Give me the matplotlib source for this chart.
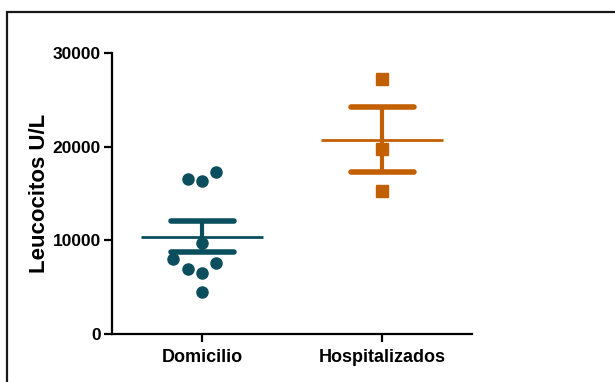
import numpy as np
import matplotlib.pyplot as plt
from matplotlib.patches import Rectangle

plt.rcParams['font.family'] = ['Liberation Sans', 'DejaVu Sans']
plt.rcParams['font.weight'] = 'bold'

groups = ['Domicilio', 'Hospitalizados']
domicilio = [16600, 16300, 17300, 9700, 8050, 6900, 6500, 7550, 4450]
hospitalizados = [27200, 19750, 15300]
dom_offsets = [-0.08, 0.0, 0.08, 0.0, -0.16, -0.08, 0.0, 0.08, 0.0]
hosp_offsets = [0.0, 0.0, 0.0]
yticks = [0, 10000, 20000, 30000]

teal = '#0b4f5e'
orange = '#c25f00'

fig = plt.figure(figsize=(6.15, 3.82), dpi=100)
# outer frame
fig.patches.append(Rectangle((7 / 615, -0.1), 1.2, 1 - 12 / 382 + 0.1,
                             transform=fig.transFigure, fill=False,
                             edgecolor='#1a1a1a', linewidth=1.6))

ax = fig.add_axes([112 / 615, 1 - 334 / 382, 360 / 615, 281 / 382])

series = [(domicilio, dom_offsets, teal, 'o', 8),
          (hospitalizados, hosp_offsets, orange, 's', 8.5)]
for i, (vals, offs, col, mk, ms) in enumerate(series):
    v = np.array(vals, dtype=float)
    mean = v.mean()
    sem = v.std(ddof=1) / np.sqrt(len(v))
    xs = i + np.array(offs)
    ax.plot(xs, v, linestyle='none', marker=mk, markersize=ms,
            color=col, zorder=3)
    ax.hlines(mean, i - 0.34, i + 0.34, color=col, linewidth=2, zorder=2)
    ax.vlines(i, mean - sem, mean + sem, color=col, linewidth=3, zorder=2)
    ax.hlines([mean - sem, mean + sem], i - 0.175, i + 0.175, color=col,
              linewidth=4, capstyle='round', zorder=2)

ax.set_xlim(-0.5, 1.5)
ax.set_ylim(0, 30000)
ax.set_xticks([0, 1])
ax.set_xticklabels(groups, fontsize=13, fontweight='bold')
ax.set_yticks(yticks)
ax.set_yticklabels([str(t) for t in yticks], fontsize=12.5, fontweight='bold')
ax.set_ylabel('Leucocitos U/L', fontsize=16, fontweight='bold', labelpad=2)

for s in ['top', 'right']:
    ax.spines[s].set_visible(False)
for s in ['left', 'bottom']:
    ax.spines[s].set_linewidth(1.6)
ax.tick_params(width=1.6, length=6, pad=2)
ax.tick_params(axis='x', pad=5)

fig.savefig('out.png', dpi=100)
